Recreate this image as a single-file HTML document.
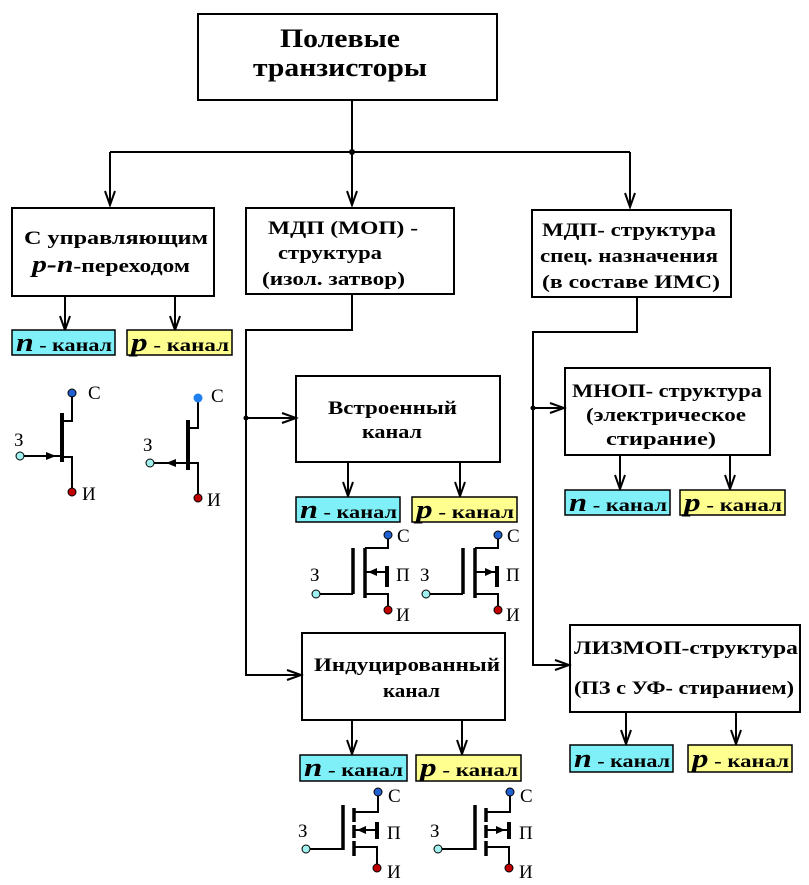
<!DOCTYPE html>
<html><head><meta charset="utf-8"><style>
html,body{margin:0;padding:0;background:#fff}
svg{display:block}
text{font-family:"Liberation Serif","DejaVu Serif",serif;font-weight:bold;fill:#000}
.t{font-size:19px}
.l{font-size:19px;font-weight:normal}
.k{font-size:18px}
</style></head><body>
<svg width="809" height="885" viewBox="0 0 809 885" xmlns="http://www.w3.org/2000/svg">
<defs>
<g id="av"><path d="M-5,-14 L0,0 L5,-14 M0,0 L0,-14" fill="none" stroke="#000" stroke-width="2"/></g>
<g id="ar"><path d="M-14,-5 L0,0 L-14,5" fill="none" stroke="#000" stroke-width="2"/></g>
</defs>
<g fill="none" stroke="#000" stroke-width="2">
<rect x="198" y="14" width="299" height="86"/>
<rect x="12" y="208" width="202" height="88"/>
<rect x="246" y="208" width="208" height="86"/>
<rect x="532" y="210" width="199" height="87"/>
<rect x="296" y="376" width="204" height="86"/>
<rect x="302" y="633" width="203" height="87"/>
<rect x="565" y="368" width="205" height="87"/>
<rect x="570" y="625" width="230" height="87"/>
<path d="M352,100V205 M110,152H630 M110,152V205 M630,152V205"/>
<path d="M65,296V330 M175,296V330"/>
<path d="M352,294V330H246V675H300 M246,418H296"/>
<path d="M348,462V497 M460,462V497 M352,720V755 M462,720V755"/>
<path d="M637,297V332H533V665H568 M533,408H565"/>
<path d="M620,455V490 M730,455V490 M626,712V745 M736,712V745"/>
</g>
<circle cx="352" cy="152" r="3"/><circle cx="246" cy="418" r="2.5"/><circle cx="533" cy="408" r="2.5"/>
<use href="#av" x="110" y="205"/><use href="#av" x="352" y="205"/><use href="#av" x="630" y="207"/>
<use href="#av" x="65" y="330"/><use href="#av" x="175" y="330"/>
<use href="#av" x="348" y="496"/><use href="#av" x="460" y="496"/>
<use href="#av" x="352" y="754"/><use href="#av" x="462" y="754"/>
<use href="#av" x="620" y="489"/><use href="#av" x="730" y="489"/>
<use href="#av" x="626" y="744"/><use href="#av" x="736" y="744"/>
<use href="#ar" x="296" y="418"/><use href="#ar" x="301" y="675"/>
<use href="#ar" x="564" y="408"/><use href="#ar" x="569" y="665"/>

<text x="280" y="47" font-size="26" textLength="120" lengthAdjust="spacingAndGlyphs">Полевые</text>
<text x="253" y="76" font-size="26" textLength="174" lengthAdjust="spacingAndGlyphs">транзисторы</text>
<text x="24" y="244" class="t" textLength="184" lengthAdjust="spacingAndGlyphs">С  управляющим</text>
<text x="32" y="272" class="t" textLength="158" lengthAdjust="spacingAndGlyphs"><tspan font-style="italic" font-size="24">p-n</tspan>-переходом</text>
<text x="268" y="234" class="t" font-weight="normal" textLength="150" lengthAdjust="spacingAndGlyphs">МДП (МОП) -</text>
<text x="278" y="259" class="t" textLength="104" lengthAdjust="spacingAndGlyphs">структура</text>
<text x="262" y="285" class="t" textLength="143" lengthAdjust="spacingAndGlyphs">(изол. затвор)</text>
<text x="542" y="236" class="t" textLength="174" lengthAdjust="spacingAndGlyphs">МДП- структура</text>
<text x="540" y="262" class="t" textLength="178" lengthAdjust="spacingAndGlyphs">спец. назначения</text>
<text x="542" y="288" class="t" textLength="178" lengthAdjust="spacingAndGlyphs">(в   составе ИМС)</text>
<text x="328" y="414" class="t" textLength="129" lengthAdjust="spacingAndGlyphs">Встроенный</text>
<text x="362" y="438" class="t" textLength="60" lengthAdjust="spacingAndGlyphs">канал</text>
<text x="314" y="671" class="t" textLength="186" lengthAdjust="spacingAndGlyphs">Индуцированный</text>
<text x="383" y="697" class="t" textLength="57" lengthAdjust="spacingAndGlyphs">канал</text>
<text x="572" y="397" class="t" textLength="190" lengthAdjust="spacingAndGlyphs">МНОП- структура</text>
<text x="586" y="421" class="t" textLength="160" lengthAdjust="spacingAndGlyphs">(электрическое</text>
<text x="606" y="445" class="t" textLength="110" lengthAdjust="spacingAndGlyphs">стирание)</text>
<text x="574" y="654" class="t" textLength="224" lengthAdjust="spacingAndGlyphs">ЛИЗМОП-структура</text>
<text x="574" y="694" class="t" textLength="220" lengthAdjust="spacingAndGlyphs">(ПЗ с УФ- стиранием)</text>

<g stroke="#000" stroke-width="1.5">
<rect x="12" y="330" width="103" height="25" fill="#80f0f8"/>
<rect x="127" y="330" width="105" height="25" fill="#ffff90"/>
<rect x="296" y="497" width="104" height="25" fill="#80f0f8"/>
<rect x="412" y="497" width="105" height="25" fill="#ffff90"/>
<rect x="300" y="755" width="107" height="26" fill="#80f0f8"/>
<rect x="416" y="755" width="105" height="26" fill="#ffff90"/>
<rect x="565" y="490" width="105" height="25" fill="#80f0f8"/>
<rect x="680" y="490" width="105" height="25" fill="#ffff90"/>
<rect x="570" y="745" width="103" height="27" fill="#80f0f8"/>
<rect x="688" y="745" width="104" height="27" fill="#ffff90"/>
</g>
<g>
<text x="16" y="351" class="k" textLength="96" lengthAdjust="spacingAndGlyphs"><tspan font-style="italic" font-size="26">n</tspan> - канал</text>
<text x="131" y="351" class="k" textLength="98" lengthAdjust="spacingAndGlyphs"><tspan font-style="italic" font-size="26">p</tspan> - канал</text>
<text x="300" y="518" class="k" textLength="97" lengthAdjust="spacingAndGlyphs"><tspan font-style="italic" font-size="26">n</tspan> - канал</text>
<text x="416" y="518" class="k" textLength="98" lengthAdjust="spacingAndGlyphs"><tspan font-style="italic" font-size="26">p</tspan> - канал</text>
<text x="304" y="776" class="k" textLength="99" lengthAdjust="spacingAndGlyphs"><tspan font-style="italic" font-size="26">n</tspan> - канал</text>
<text x="420" y="776" class="k" textLength="98" lengthAdjust="spacingAndGlyphs"><tspan font-style="italic" font-size="26">p</tspan> - канал</text>
<text x="569" y="511" class="k" textLength="98" lengthAdjust="spacingAndGlyphs"><tspan font-style="italic" font-size="26">n</tspan> - канал</text>
<text x="684" y="511" class="k" textLength="98" lengthAdjust="spacingAndGlyphs"><tspan font-style="italic" font-size="26">p</tspan> - канал</text>
<text x="574" y="767" class="k" textLength="96" lengthAdjust="spacingAndGlyphs"><tspan font-style="italic" font-size="26">n</tspan> - канал</text>
<text x="692" y="767" class="k" textLength="97" lengthAdjust="spacingAndGlyphs"><tspan font-style="italic" font-size="26">p</tspan> - канал</text>
</g>

<!-- JFET -->
<g fill="none" stroke="#000" stroke-width="2">
<path d="M62,413V462" stroke-width="4"/>
<path d="M72,393V421H62 M20,456H62 M62,457H72V492"/>
<path d="M188,420V470" stroke-width="4"/>
<path d="M198,398V428H188 M150,463H188 M188,463H198V498"/>
</g>
<path d="M46,452L56,456L46,460Z"/><path d="M166,463L176,459L176,467Z"/>
<circle cx="72" cy="393" r="4" fill="#2060d0" stroke="#000"/>
<circle cx="20" cy="456" r="4" fill="#a0f0f0" stroke="#000"/>
<circle cx="72" cy="492" r="4" fill="#c00000" stroke="#000"/>
<circle cx="198" cy="398" r="4.5" fill="#2080f0"/>
<circle cx="150" cy="463" r="4" fill="#a0f0f0" stroke="#000"/>
<circle cx="198" cy="498" r="4" fill="#c00000" stroke="#000"/>
<text x="88" y="399" class="l">С</text><text x="14" y="446" class="l">З</text><text x="82" y="500" class="l">И</text>
<text x="211" y="402" class="l">С</text><text x="143" y="451" class="l">З</text><text x="207" y="506" class="l">И</text>

<!-- MOSFET built-in -->
<g id="mb">
<g fill="none" stroke="#000" stroke-width="2">
<path d="M353,548V594 M365,548V598" stroke-width="3.5"/>
<path d="M388,535V548H365 M365,572H386 M365,594H388V610 M316,594H353"/>
<path d="M387,566V587" stroke-width="4"/>
</g>
<circle cx="388" cy="535" r="4" fill="#2060d0" stroke="#000"/>
<circle cx="316" cy="594" r="4" fill="#a0f0f0" stroke="#000"/>
<circle cx="388" cy="610" r="4" fill="#c00000" stroke="#000"/>
<text x="397" y="542" class="l">С</text><text x="396" y="581" class="l">П</text>
<text x="310" y="581" class="l">З</text><text x="396" y="621" class="l">И</text>
</g>
<path d="M368,572L377,568L377,576Z"/>
<use href="#mb" x="110" y="0"/>
<path d="M494,572L485,568L485,576Z"/>

<!-- MOSFET induced -->
<g id="mi">
<g fill="none" stroke="#000" stroke-width="2">
<path d="M343,805V850" stroke-width="3.5"/>
<path d="M354,808V822 M354,825V838 M354,841V856" stroke-width="3.5"/>
<path d="M378,792V812H354 M354,830H375 M354,847H377V868 M306,849H343"/>
<path d="M377,822V839" stroke-width="4"/>
</g>
<circle cx="378" cy="792" r="4" fill="#2060d0" stroke="#000"/>
<circle cx="306" cy="849" r="4" fill="#a0f0f0" stroke="#000"/>
<circle cx="377" cy="868" r="4" fill="#c00000" stroke="#000"/>
<text x="388" y="802" class="l">С</text><text x="387" y="839" class="l">П</text>
<text x="298" y="837" class="l">З</text><text x="387" y="878" class="l">И</text>
</g>
<path d="M357,830L366,826L366,834Z"/>
<use href="#mi" x="132" y="0"/>
<path d="M505,830L496,826L496,834Z"/>
</svg>
</body></html>
